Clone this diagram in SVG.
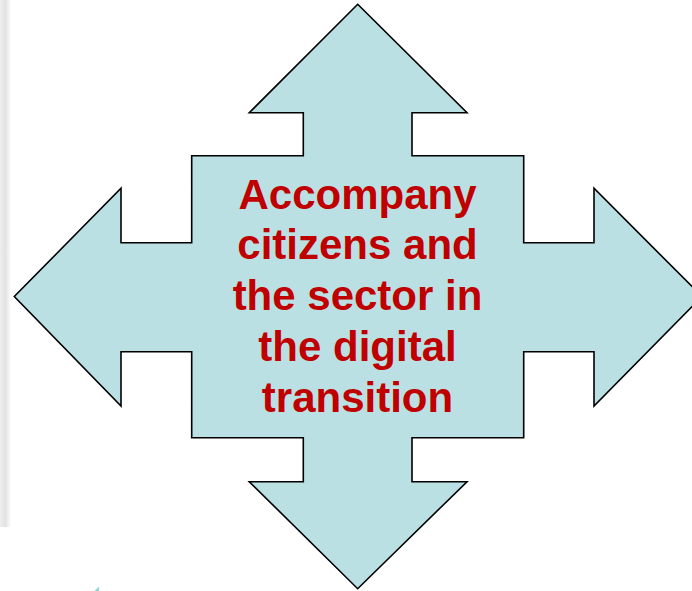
<svg xmlns="http://www.w3.org/2000/svg" width="692" height="591" viewBox="0 0 692 591">
<defs>
<style>
.arrow{fill:#BBE0E3;stroke:#000;stroke-width:1.6;stroke-linejoin:miter}
.lbl{font-family:"Liberation Sans",Arial,sans-serif;font-weight:bold;font-size:42px;fill:#C00000;text-anchor:middle}
</style>
<linearGradient id="sh" x1="0" y1="0" x2="1" y2="0">
<stop offset="0" stop-color="#eeeeee"/>
<stop offset="0.5" stop-color="#e2e2e2"/>
<stop offset="1" stop-color="#ffffff"/>
</linearGradient>
</defs>
<rect width="692" height="591" fill="#fff"/>
<rect x="0" y="0" width="11" height="527" fill="url(#sh)"/>
<polygon points="94.5,591 99,586.5 99,591" fill="#8fd6d8"/>
<g id="quad-arrow">
<polygon class="arrow" points="357.7,4.3 467,112.7 412,112.7 412,155.7 523.7,155.7 523.7,242.7 594,242.7 594,188.3 702,296.5 594,406 594,351.7 523.7,351.7 523.7,437.7 412,437.7 412,481.7 467,481.7 357.7,588.7 249.3,481.7 303.3,481.7 303.3,437.7 191.7,437.7 191.7,351.7 121,351.7 121,406 14.3,296.5 121,188.3 121,242.7 191.7,242.7 191.7,155.7 303.3,155.7 303.3,112.7 249.3,112.7"/>
<text class="lbl" x="357.5" y="208.5">Accompany</text>
<text class="lbl" x="357.5" y="259.3">citizens and</text>
<text class="lbl" x="357.5" y="310">the sector in</text>
<text class="lbl" x="357.5" y="360.8">the digital</text>
<text class="lbl" x="357.5" y="411.5">transition</text>
</g>
<g id="connectors"></g>
</svg>
